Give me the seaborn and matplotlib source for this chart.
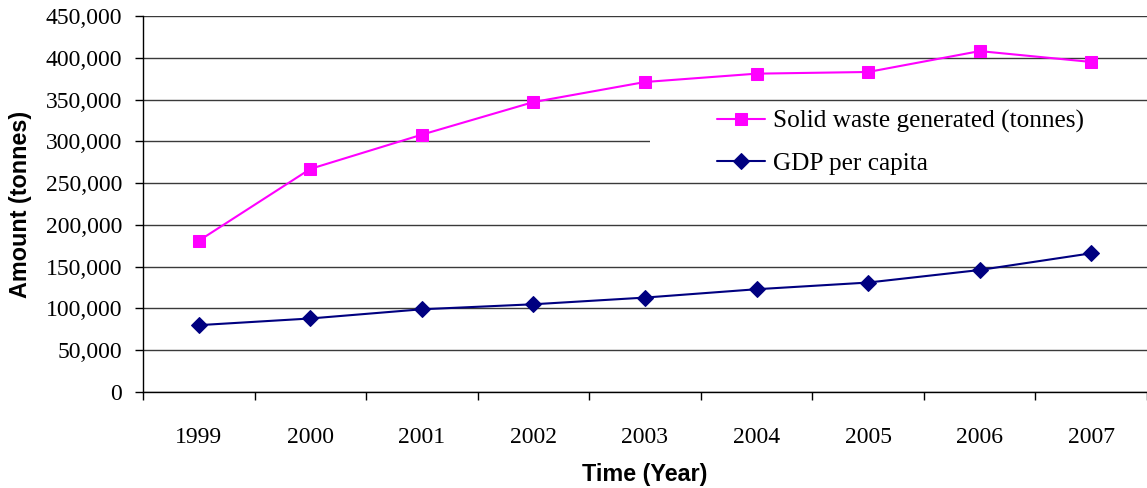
import matplotlib
matplotlib.use("Agg")
import matplotlib.pyplot as plt
import seaborn as sns
import pandas as pd
from matplotlib.ticker import FixedLocator, FuncFormatter
from matplotlib.patches import Rectangle

years = [1999, 2000, 2001, 2002, 2003, 2004, 2005, 2006, 2007]
solid_waste = [181000, 267000, 308000, 347000, 371000, 381000, 383000, 408000, 395000]
gdp_per_capita = [80000, 88000, 99000, 105000, 113000, 123000, 131000, 146000, 166000]
series_names = ["Solid waste generated (tonnes)", "GDP per capita"]

df = pd.concat([
    pd.DataFrame({"Year": years, "Value": solid_waste, "Series": series_names[0]}),
    pd.DataFrame({"Year": years, "Value": gdp_per_capita, "Series": series_names[1]}),
])

sns.set_theme(style="white")
plt.rcParams["font.family"] = ["Liberation Serif", "DejaVu Serif"]

fig = plt.figure(figsize=(11.47, 4.88), dpi=100)
ax = fig.add_axes([143 / 1147, 1 - 392 / 488, 1 - 143 / 1147, (392 - 16) / 488])

palette = {series_names[0]: "#FF00FF", series_names[1]: "#000080"}
markers = {series_names[0]: "s", series_names[1]: "D"}
sizes_ms = {series_names[0]: 9, series_names[1]: 8.5}

for name in series_names:
    sub = df[df["Series"] == name]
    sns.lineplot(data=sub, x="Year", y="Value", ax=ax, color=palette[name],
                 marker=markers[name], markersize=sizes_ms[name],
                 markeredgecolor=palette[name], linewidth=1.5, label=name,
                 zorder=3)

ax.set_xlim(years[0] - 0.5, years[-1] + 0.5)
ax.set_ylim(0, 450000)
ax.yaxis.set_major_locator(FixedLocator(list(range(0, 450001, 50000))))
ax.yaxis.set_major_formatter(FuncFormatter(lambda v, p: f"{int(v):,}"))
ax.set_xticks(years)
ax.set_xticklabels([str(y) for y in years])
ax.xaxis.set_minor_locator(FixedLocator([y - 0.5 for y in years] + [years[-1] + 0.5]))

ax.grid(axis="y", color="#3a3a3a", linewidth=1.0)
ax.grid(axis="x", visible=False)
ax.set_axisbelow(True)

for s in ["top", "right"]:
    ax.spines[s].set_visible(False)
for s in ["left", "bottom"]:
    ax.spines[s].set_visible(True)
    ax.spines[s].set_color("black")
    ax.spines[s].set_linewidth(1.0)

ax.tick_params(axis="y", which="major", left=True, length=6, width=1, color="black",
               pad=9, labelsize=17, labelcolor="black")
ax.tick_params(axis="x", which="major", bottom=True, length=0, pad=25,
               labelsize=17, labelcolor="black")
ax.tick_params(axis="x", which="minor", bottom=True, length=6, width=1, color="black")

ax.set_xlabel("Time (Year)", fontsize=16.8, fontweight="bold",
              family=["Liberation Sans", "DejaVu Sans"], labelpad=11, color="black")
ax.set_ylabel("Amount (tonnes)", fontsize=16.8, fontweight="bold",
              family=["Liberation Sans", "DejaVu Sans"], labelpad=10, color="black")

leg = ax.legend(loc="upper left", bbox_to_anchor=(716 / 1147, 1 - 109 / 488),
                bbox_transform=fig.transFigure, frameon=True, fancybox=False,
                facecolor="white", edgecolor="white", framealpha=1,
                prop={"family": ["Liberation Serif"], "size": 18.2},
                handlelength=1.9, handletextpad=0.3, labelspacing=0.74,
                borderpad=0.05, borderaxespad=0)
for t in leg.get_texts():
    t.set_color("black")

# white backdrop of the legend area, reaching to the plot's right edge
fig.canvas.draw()
bb = leg.get_window_extent().transformed(ax.transAxes.inverted())
x0 = (650 - 143) / (1147 - 143)
ax.add_patch(Rectangle((x0, bb.y0), 1 - x0, bb.height, transform=ax.transAxes,
                       facecolor="white", edgecolor="none", zorder=2.5))

fig.savefig("out.png", dpi=100)
